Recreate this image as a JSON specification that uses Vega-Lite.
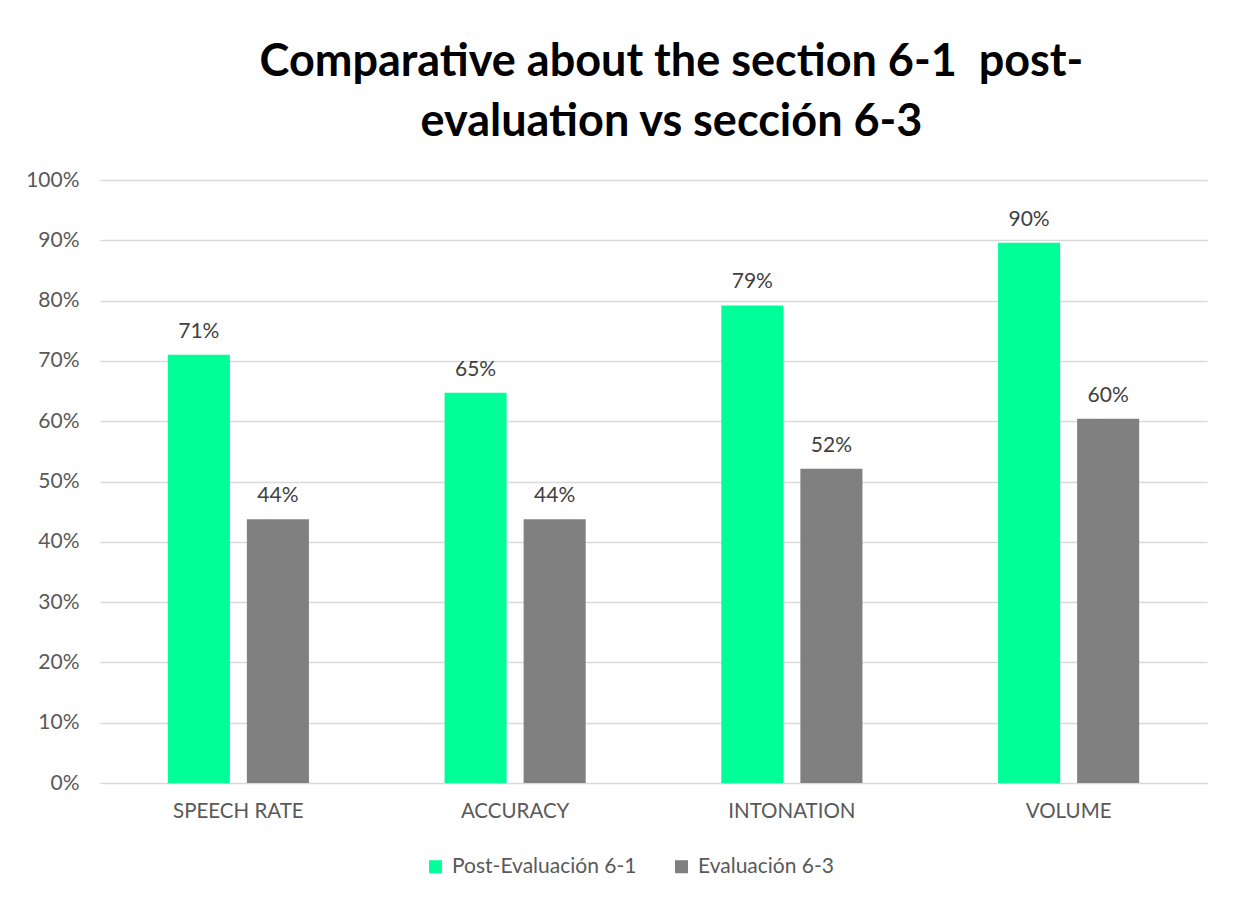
{
  "$schema": "https://vega.github.io/schema/vega-lite/v6.json",
  "width": 1107,
  "height": 603,
  "autosize": "none",
  "padding": {"left": 100, "top": 180, "right": 26, "bottom": 118},
  "background": "white",
  "title": {
    "text": ["Comparative about the section 6-1\u00a0 post-", "evaluation vs sección 6-3"],
    "font": "Lato",
    "fontSize": 45,
    "fontWeight": "bold",
    "color": "#000000",
    "anchor": "middle",
    "dx": 18,
    "offset": 24,
    "lineHeight": 60
  },
  "data": {
    "values": [
      {"category": "SPEECH RATE", "series": "Post-Evaluación 6-1", "value": 0.71},
      {"category": "SPEECH RATE", "series": "Evaluación 6-3", "value": 0.4375},
      {"category": "ACCURACY", "series": "Post-Evaluación 6-1", "value": 0.647},
      {"category": "ACCURACY", "series": "Evaluación 6-3", "value": 0.4375},
      {"category": "INTONATION", "series": "Post-Evaluación 6-1", "value": 0.792},
      {"category": "INTONATION", "series": "Evaluación 6-3", "value": 0.521},
      {"category": "VOLUME", "series": "Post-Evaluación 6-1", "value": 0.896},
      {"category": "VOLUME", "series": "Evaluación 6-3", "value": 0.604}
    ]
  },
  "encoding": {
    "x": {
      "field": "category",
      "type": "nominal",
      "sort": ["SPEECH RATE", "ACCURACY", "INTONATION", "VOLUME"],
      "scale": {"paddingInner": 0.49, "paddingOuter": 0.245},
      "axis": {
        "title": null,
        "labelAngle": 0,
        "labelFont": "Lato",
        "labelFontSize": 20.5,
        "labelColor": "#595959",
        "labelPadding": 18,
        "ticks": false,
        "domain": false,
        "grid": false
      }
    },
    "xOffset": {
      "field": "series",
      "type": "nominal",
      "sort": ["Post-Evaluación 6-1", "Evaluación 6-3"],
      "scale": {"paddingInner": 0.215, "paddingOuter": 0}
    },
    "y": {
      "field": "value",
      "type": "quantitative",
      "scale": {"domain": [0, 1]},
      "axis": {
        "title": null,
        "format": ".0%",
        "values": [0, 0.1, 0.2, 0.3, 0.4, 0.5, 0.6, 0.7, 0.8, 0.9, 1],
        "labelOverlap": false,
        "labelFont": "Lato",
        "labelFontSize": 21,
        "labelColor": "#595959",
        "labelPadding": 21,
        "ticks": false,
        "domain": false,
        "gridColor": "#d9d9d9",
        "gridWidth": 1.5
      }
    }
  },
  "layer": [
    {
      "mark": {"type": "bar"},
      "encoding": {
        "color": {
          "field": "series",
          "type": "nominal",
          "sort": ["Post-Evaluación 6-1", "Evaluación 6-3"],
          "scale": {"domain": ["Post-Evaluación 6-1", "Evaluación 6-3"], "range": ["#00FF99", "#808080"]},
          "legend": {
            "title": null,
            "orient": "none",
            "legendX": 325,
            "legendY": 676,
            "direction": "horizontal",
            "symbolType": "square",
            "symbolSize": 170,
            "symbolStrokeWidth": 0,
            "labelFont": "Lato",
            "labelFontSize": 21,
            "labelLimit": 0,
            "labelColor": "#595959",
            "columnPadding": 34,
            "labelOffset": 6
          }
        }
      }
    },
    {
      "mark": {"type": "text", "font": "Lato", "fontSize": 21, "color": "#404040", "baseline": "alphabetic", "dy": -17},
      "encoding": {
        "text": {"field": "value", "type": "quantitative", "format": ".0%"}
      }
    }
  ],
  "config": {
    "view": {"stroke": null}
  }
}
